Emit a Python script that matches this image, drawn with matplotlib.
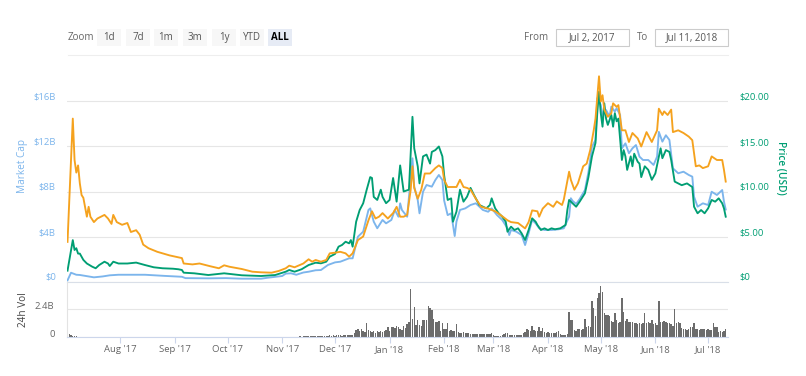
import matplotlib
matplotlib.use('Agg')
import matplotlib.pyplot as plt
from matplotlib.transforms import ScaledTranslation
from matplotlib.patches import Rectangle
import numpy as np

plt.rcParams['font.family'] = ['Open Sans', 'DejaVu Sans']

START = np.datetime64('2017-07-02')

# (days since START, price in USD)
price_usd_points = [(0,1.2),(3,4.6),(4,3.5),(5,3.7),(6,3.1),(7,3.1),(9,2.4),(11,2.0),(14,1.65),(16,1.47),
    (18,1.83),(21,2.2),(23,2.0),(24,1.72),(26,2.2),(29,2.0),(34,2.0),(39,2.1),(44,1.83),(49,1.58),(54,1.47),
    (60,1.42),(63,1.36),(65,1.28),(66,0.98),(72,0.91),(80,0.72),(89,0.91),(99,0.69),(110,0.61),(118,0.72),
    (124,1.09),(126,1.28),(129,1.09),(133,1.36),(137,1.83),(141,2.09),(144,2.02),(147,2.2),(149,2.76),
    (152,3.06),(154,3.87),(156,4.06),(158,4.42),(160,4.24),(161,4.6),(162,3.87),(164,6.64),(166,7.94),
    (168,8.69),(170,10.2),(172,11.6),(173,11.5),(174,9.4),(176,9.06),(178,10.2),(179,9.4),(181,8.7),
    (183,9.06),(185,11.5),(187,8.87),(189,12.9),(191,10.0),(194,10.2),(196,18.3),(197,14.8),(199,12.8),
    (200,10.9),(202,13.9),(204,14.1),(206,13.1),(207,14.4),(209,14.6),(211,15.0),(213,13.9),(214,11.8),
    (216,9.06),(218,9.24),(219,6.64),(221,7.76),(223,10.2),(225,8.87),(227,9.42),(229,10.4),(231,9.6),
    (232,9.24),(234,8.5),(236,8.31),(238,8.13),(240,8.5),(241,9.24),(243,8.13),(245,7.58),(247,7.2),
    (249,6.64),(250,5.53),(252,6.09),(254,5.72),(256,5.91),(258,5.36),(260,4.61),(262,5.72),(264,7.02),
    (266,6.64),(267,6.28),(269,5.72),(271,5.91),(273,5.72),(275,5.91),(277,5.8),(280,5.91),(283,6.28),
    (284,7.94),(285,9.06),(287,8.69),(289,8.31),(291,8.87),(294,9.8),(296,11.6),(298,13.9),(300,15.4),
    (301,18.7),(302,21.1),(303,18.7),(304,17.2),(305,19.8),(306,18.1),(307,17.4),(309,18.5),(310,17.2),
    (311,18.7),(312,17.8),(313,18.1),(315,13.5),(316,14.6),(317,13.9),(318,12.4),(320,13.9),(321,12.8),
    (322,14.2),(324,13.3),(325,13.1),(326,11.6),(328,12.8),(330,12.4),(332,11.3),(334,12.0),(336,13.9),
    (337,14.8),(338,13.7),(340,14.6),(342,14.4),(343,13.5),(345,11.1),(347,10.9),(349,10.7),(352,10.9),
    (355,10.5),(356,8.31),(358,7.58),(360,7.94),(362,7.58),(364,8.13),(366,9.06),(368,8.87),(370,9.24),
    (372,8.69),(373,8.13),(374,7.2)]

# (days since START, market cap in billions USD)
market_cap_points = [(0,0.1),(2,0.78),(5,0.6),(7,0.58),(12,0.45),(15,0.37),(20,0.45),(24,0.55),(29,0.6),
    (37,0.6),(44,0.6),(55,0.5),(65,0.42),(67,0.3),(80,0.28),(90,0.3),(99,0.25),(110,0.25),(114,0.34),
    (122,0.49),(124,0.7),(127,0.73),(130,0.6),(134,0.8),(137,0.87),(141,1.0),(144,1.02),(148,1.47),
    (152,1.7),(155,1.76),(160,2.06),(162,2.06),(165,3.98),(168,4.43),(171,6.36),(172,6.5),(174,5.32),
    (176,4.73),(179,5.47),(181,5.17),(184,5.47),(186,6.36),(188,5.76),(189,6.95),(190,6.36),(193,5.76),
    (196,10.95),(197,8.43),(199,7.24),(200,6.06),(202,7.98),(204,8.58),(207,8.43),(209,9.02),(211,9.47),
    (213,9.02),(214,7.2),(216,5.9),(218,6.06),(220,4.04),(221,5.32),(223,6.36),(226,6.5),(229,6.8),
    (232,6.95),(234,6.65),(236,6.36),(239,6.2),(241,6.5),(244,5.91),(247,5.47),(250,4.73),(251,4.13),
    (252,4.58),(255,4.43),(258,4.13),(260,3.24),(262,4.28),(264,5.47),(266,5.17),(268,4.73),(271,4.58),
    (275,4.58),(279,4.64),(282,4.73),(285,5.76),(286,7.4),(287,7.16),(289,6.9),(291,7.33),(294,8.13),
    (296,9.73),(298,11.98),(300,12.58),(301,16.3),(303,15.7),(304,14.65),(306,15.24),(308,14.65),
    (309,15.54),(311,15.1),(312,15.4),(314,14.8),(315,11.84),(317,12.28),(319,11.4),(321,11.84),
    (323,12.13),(325,11.1),(327,10.8),(330,10.8),(333,10.36),(335,11.1),(336,13.3),(338,12.43),(340,13.0),
    (342,12.58),(344,10.06),(347,9.62),(350,9.76),(353,9.47),(355,9.32),(356,7.54),(358,6.65),(361,6.95),
    (364,6.8),(366,7.98),(369,7.69),(372,8.13),(373,7.1),(374,6.4)]

# (days since START, price in BTC)
price_btc_points = [(0,0.00044),(3,0.00181),(4,0.00135),(5,0.00121),(6,0.00129),(7,0.00109),(8,0.00096),
    (9,0.00093),(11,0.00072),(12,0.00083),(13,0.00072),(15,0.00066),(17,0.0007),(19,0.00072),(21,0.00074),
    (23,0.0007),(25,0.00064),(26,0.00074),(28,0.00066),(31,0.00063),(34,0.00065),(36,0.00055),(39,0.00057),
    (41,0.00052),(43,0.00041),(46,0.00037),(51,0.00033),(58,0.00029),(65,0.00026),(66,0.0002),(71,0.00019),
    (75,0.0002),(81,0.00017),(86,0.000147),(89,0.00018),(92,0.000164),(99,0.000139),(105,0.000109),
    (110,0.000102),(116,0.000098),(120,0.000117),(124,0.000147),(126,0.000176),(129,0.000158),(134,0.0002),
    (137,0.000247),(139,0.00022),(141,0.000239),(144,0.00022),(147,0.000239),(149,0.000313),(152,0.00032),
    (155,0.00033),(158,0.000313),(160,0.000276),(162,0.000313),(165,0.00046),(168,0.0005),(171,0.00068),
    (173,0.00078),(175,0.0007),(177,0.00072),(179,0.00076),(182,0.0007),(185,0.00076),(187,0.00083),
    (189,0.00072),(191,0.00072),(193,0.00074),(195,0.00102),(196,0.00128),(197,0.00104),(199,0.00092),
    (201,0.00102),(203,0.0012),(206,0.0012),(209,0.00126),(211,0.00129),(213,0.00126),(214,0.00113),
    (216,0.00105),(219,0.00105),(221,0.00105),(223,0.00113),(225,0.00105),(227,0.00104),(229,0.00102),
    (232,0.00092),(235,0.00083),(239,0.00081),(243,0.00078),(246,0.00074),(250,0.00068),(252,0.00066),
    (256,0.00065),(260,0.00059),(262,0.00066),(264,0.00079),(267,0.00078),(268,0.00072),(270,0.00081),
    (273,0.00087),(276,0.00083),(278,0.00089),(281,0.00085),(282,0.00091),(285,0.00122),(286,0.00113),
    (288,0.00102),(290,0.00109),(293,0.00128),(295,0.00131),(297,0.00146),(299,0.00168),(300,0.00181),
    (302,0.00228),(303,0.002),(304,0.00207),(305,0.00191),(307,0.00183),(309,0.00187),(310,0.00198),
    (312,0.00194),(313,0.00196),(315,0.00168),(317,0.00168),(319,0.00155),(321,0.00165),(324,0.00159),
    (326,0.0015),(329,0.00166),(332,0.00155),(335,0.00168),(336,0.00192),(338,0.00185),(339,0.00189),
    (341,0.00185),(343,0.00191),(344,0.00166),(347,0.00168),(350,0.00165),(353,0.00161),(355,0.00157),
    (357,0.00128),(359,0.00129),(361,0.00126),(364,0.00128),(366,0.00139),(369,0.00135),(372,0.00135),
    (373,0.00124),(374,0.00111)]

# daily 24h volume in billions USD, one value per day from START
volume_b = [
    0.45,0.25,0.18,0.12,0.10,0.08,0.06,0.05,0.05,0.04,
    0.04,0.03,0.04,0.03,0.03,0.03,0.04,0.03,0.03,0.03,
    0.03,0.03,0.04,0.03,0.03,0.03,0.03,0.03,0.02,0.03,
    0.03,0.02,0.02,0.03,0.02,0.02,0.02,0.03,0.02,0.02,
    0.02,0.02,0.03,0.02,0.02,0.02,0.02,0.02,0.02,0.02,
    0.02,0.02,0.02,0.02,0.02,0.02,0.02,0.02,0.03,0.02,
    0.02,0.02,0.02,0.02,0.03,0.02,0.02,0.02,0.02,0.02,
    0.02,0.02,0.02,0.02,0.02,0.02,0.02,0.02,0.02,0.02,
    0.02,0.02,0.02,0.02,0.02,0.02,0.02,0.02,0.02,0.02,
    0.02,0.02,0.02,0.02,0.02,0.02,0.02,0.02,0.02,0.02,
    0.02,0.02,0.02,0.02,0.02,0.02,0.02,0.02,0.02,0.02,
    0.02,0.02,0.02,0.02,0.02,0.02,0.02,0.02,0.02,0.02,
    0.03,0.03,0.04,0.05,0.06,0.05,0.06,0.05,0.04,0.05,
    0.05,0.06,0.07,0.06,0.08,0.09,0.10,0.08,0.09,0.08,
    0.09,0.08,0.10,0.09,0.10,0.12,0.11,0.13,0.15,0.16,
    0.14,0.18,0.15,0.20,0.16,0.18,0.15,0.22,0.18,0.20,
    0.24,0.18,0.22,0.40,0.62,0.72,0.55,0.68,0.50,0.45,
    1.26,0.60,0.52,0.45,0.55,0.38,0.50,0.48,0.55,0.45,
    0.52,0.60,0.91,0.58,0.85,0.92,0.80,0.95,0.88,0.70,
    0.62,0.95,0.80,1.10,1.35,4.10,1.60,2.57,1.06,1.50,
    1.06,0.95,1.50,1.48,1.52,2.70,2.55,2.35,1.54,1.34,
    1.30,1.38,0.57,1.26,0.70,0.75,1.20,0.57,0.60,0.55,
    0.50,1.14,0.45,0.40,0.38,0.42,0.36,0.40,0.35,0.30,
    0.28,0.30,0.27,0.31,0.29,0.26,0.30,0.28,0.27,0.29,
    0.28,0.33,0.20,0.15,0.14,0.13,0.15,0.22,0.30,0.40,
    0.38,0.22,0.20,0.18,0.21,0.19,0.20,0.18,0.22,0.35,
    0.45,0.69,0.62,0.50,0.97,0.60,0.57,0.55,0.86,0.50,
    0.77,0.45,0.40,0.42,0.38,0.40,0.37,0.40,0.42,0.54,
    0.30,0.20,0.18,0.22,0.25,2.20,1.50,1.45,0.63,0.55,
    0.69,0.72,0.66,0.69,1.54,0.91,0.95,0.88,3.14,2.49,
    1.80,3.34,3.77,4.40,3.90,2.06,1.90,1.95,1.85,1.40,
    1.34,2.06,1.50,1.20,1.30,3.34,2.20,1.40,1.54,1.34,
    1.30,1.34,1.20,1.22,1.18,1.20,1.15,1.22,2.06,1.26,
    1.28,1.24,1.48,1.10,1.26,1.06,3.14,1.34,1.30,1.36,
    1.32,1.20,1.22,1.18,1.00,2.40,1.26,1.28,1.24,0.80,
    0.69,0.72,0.66,0.70,0.91,0.92,1.20,0.69,0.72,0.66,
    0.70,0.68,0.72,0.66,0.70,0.65,0.60,1.20,0.86,0.85,
    0.49,0.50,0.48,0.50,0.69]

month_ticks = ['2017-08-01','2017-09-01','2017-10-01','2017-11-01','2017-12-01','2018-01-01',
               '2018-02-01','2018-03-01','2018-04-01','2018-05-01','2018-06-01','2018-07-01']
month_labels = ["Aug '17","Sep '17","Oct '17","Nov '17","Dec '17","Jan '18",
                "Feb '18","Mar '18","Apr '18","May '18","Jun '18","Jul '18"]
cap_ticks = [0, 4, 8, 12, 16]
cap_labels = ['$0', '$4B', '$8B', '$12B', '$16B']
usd_ticks = [0, 5, 10, 15, 20]
usd_labels = ['$0', '$5.00', '$10.00', '$15.00', '$20.00']
vol_ticks = [0, 2.4]
vol_labels = ['0', '2.4B']
zoom_buttons = ['1d', '7d', '1m', '3m', '1y', 'YTD', 'ALL']
active_button = 'ALL'
date_from = 'Jul 2, 2017'
date_to = 'Jul 11, 2018'

C_CAP = '#7cb5ec'
C_USD = '#009e73'
C_BTC = '#f5a21e'
C_VOL = '#6c6c6c'
C_GRID = '#e6e6e6'
C_TXT = '#666666'

W, H = 806, 376
fig = plt.figure(figsize=(W / 100, H / 100), dpi=100)


def fx(x):
    return x / W


def fy(y):
    return 1 - y / H


def to_dates(days):
    return START + np.array(days, dtype='timedelta64[D]')


def unzip(points):
    d = [p[0] for p in points]
    v = [p[1] for p in points]
    return to_dates(d), np.array(v)


# axes geometry (pixels)
PL, PR = 67, 728
MAIN_TOP, MAIN_BOT = 74, 281.5
VOL_BOT = 337.3

ax = fig.add_axes([fx(PL), fy(MAIN_BOT), fx(PR - PL), (MAIN_BOT - MAIN_TOP) / H])
ax_usd = ax.twinx()
ax_btc = ax.twinx()
ax_vol = fig.add_axes([fx(PL), fy(VOL_BOT), fx(PR - PL), (VOL_BOT - MAIN_BOT) / H])

x0 = START - np.timedelta64(7, 'h')
x1 = START + np.timedelta64(375 * 24 + 7, 'h')
for a in (ax, ax_usd, ax_btc, ax_vol):
    a.set_xlim(x0, x1)
    a.set_facecolor('none')

ax.set_ylim(0, (MAIN_BOT - MAIN_TOP) / 11.25)
ax_usd.set_ylim(0, (MAIN_BOT - MAIN_TOP) / 9.0)
ax_btc.set_ylim(0, (MAIN_BOT - MAIN_TOP) / 90000.0)
ax_vol.set_ylim(0, (VOL_BOT - MAIN_BOT) / 28.0 * 2.4)

# lines
d, v = unzip(market_cap_points)
ax.plot(d, v, color=C_CAP, lw=1.35, zorder=3, solid_joinstyle='round')
d, v = unzip(price_usd_points)
ax_usd.plot(d, v, color=C_USD, lw=1.35, zorder=3, solid_joinstyle='round')
d, v = unzip(price_btc_points)
ax_btc.plot(d, v, color=C_BTC, lw=1.35, zorder=3, solid_joinstyle='round')

# volume bars
vd = to_dates(list(range(len(volume_b))))
ax_vol.bar(vd, volume_b, width=0.8, color=C_VOL, linewidth=0, align='center')

up = ScaledTranslation(0, 5 / 100, fig.dpi_scale_trans)

# main axis (market cap, left)
ax.set_yticks(cap_ticks)
ax.set_yticklabels(cap_labels)
ax.tick_params(axis='y', length=0, pad=8, labelsize=6.8, labelcolor=C_CAP)
ax.set_xticks([])
ax.grid(axis='y', color=C_GRID, lw=0.8)
ax.set_axisbelow(True)
for s in ('top', 'left', 'right'):
    ax.spines[s].set_visible(False)
ax.spines['bottom'].set_color('#d9dfe8')
ax.spines['bottom'].set_linewidth(0.8)
for lab in ax.get_yticklabels():
    lab.set_transform(lab.get_transform() + up)
fig.text(fx(23), fy(166), 'Market Cap', rotation=90, ha='center', va='center',
         color=C_CAP, fontsize=7.2)

# right axis (price USD)
ax_usd.set_yticks(usd_ticks)
ax_usd.set_yticklabels(usd_labels)
ax_usd.tick_params(axis='y', length=0, pad=8, labelsize=6.8, labelcolor=C_USD)
ax_usd.set_xticks([])
for s in ax_usd.spines.values():
    s.set_visible(False)
for lab in ax_usd.get_yticklabels():
    lab.set_transform(lab.get_transform() + up)
fig.text(fx(781), fy(168), 'Price (USD)', rotation=-90, ha='center', va='center',
         color=C_USD, fontsize=7.2, fontweight='semibold')

# hidden BTC axis
ax_btc.set_yticks([])
ax_btc.set_xticks([])
for s in ax_btc.spines.values():
    s.set_visible(False)

# volume axis
ax_vol.set_yticks(vol_ticks)
ax_vol.set_yticklabels(vol_labels)
ax_vol.tick_params(axis='y', length=0, pad=9, labelsize=6.8, labelcolor=C_TXT)
for lab in ax_vol.get_yticklabels():
    lab.set_transform(lab.get_transform() + ScaledTranslation(0, 4 / 100, fig.dpi_scale_trans))
ax_vol.grid(axis='y', color=C_GRID, lw=0.8)
ax_vol.set_axisbelow(True)
for s in ('top', 'right'):
    ax_vol.spines[s].set_visible(False)
ax_vol.spines['left'].set_color('#e3e3e3')
ax_vol.spines['left'].set_linewidth(0.8)
ax_vol.spines['bottom'].set_color('#ccd6eb')
ax_vol.spines['bottom'].set_linewidth(0.8)
ax_vol.set_xticks(np.array(month_ticks, dtype='datetime64[D]'))
ax_vol.set_xticklabels(month_labels)
ax_vol.tick_params(axis='x', length=4.3, width=0.8, color='#ccd6eb', pad=1.5,
                   labelsize=6.8, labelcolor=C_TXT)
fig.text(fx(23), fy(310), '24h Vol', rotation=90, ha='center', va='center',
         color='#444444', fontsize=7.2)

# toolbar: zoom buttons
fig.text(fx(68), fy(37.5), 'Zoom', ha='left', va='center', color=C_TXT, fontsize=7)
bx = [97, 126, 154, 183, 212, 240, 268]
for x, lab in zip(bx, zoom_buttons):
    active = lab == active_button
    fig.patches.append(Rectangle((fx(x), fy(46)), fx(24), 17 / H, transform=fig.transFigure,
                                 facecolor='#e6ebf5' if active else '#f7f7f7',
                                 edgecolor='none', zorder=0))
    fig.text(fx(x + 12), fy(37.5), lab, ha='center', va='center', fontsize=7,
             color='#000000' if active else '#555555',
             fontweight='bold' if active else 'normal')

# toolbar: date range
fig.text(fx(548), fy(37.5), 'From', ha='right', va='center', color=C_TXT, fontsize=7)
fig.patches.append(Rectangle((fx(556), fy(46)), fx(73), 17 / H, transform=fig.transFigure,
                             facecolor='white', edgecolor='#cccccc', lw=0.8))
fig.text(fx(592.5), fy(37.5), date_from, ha='center', va='center', color='#555555', fontsize=7)
fig.text(fx(648), fy(37.5), 'To', ha='right', va='center', color=C_TXT, fontsize=7)
fig.patches.append(Rectangle((fx(655), fy(46)), fx(73), 17 / H, transform=fig.transFigure,
                             facecolor='white', edgecolor='#cccccc', lw=0.8))
fig.text(fx(691.5), fy(37.5), date_to, ha='center', va='center', color='#555555', fontsize=7)

# separator line below toolbar
fig.add_artist(plt.Line2D([fx(68), fx(728)], [fy(55), fy(55)], transform=fig.transFigure,
                          color='#eeeeee', lw=0.8))

fig.savefig('out.png', dpi=100)
